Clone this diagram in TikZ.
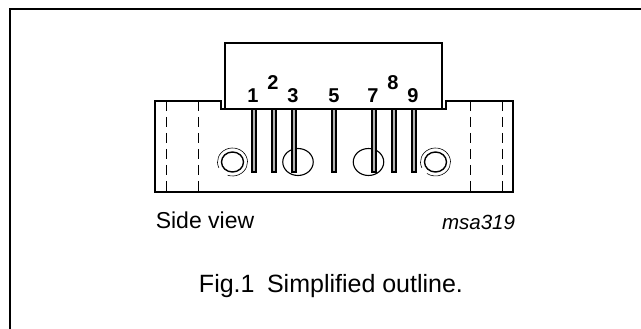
\documentclass[tikz,border=0pt]{standalone}
\usepackage{fontspec}
\setmainfont{Liberation Sans}
\usetikzlibrary{shapes.geometric}
\begin{document}
\begin{tikzpicture}[x=1pt,y=-1pt]
\tikzstyle{outline}=[draw, line width=1.2pt]
\tikzstyle{hidden}=[draw, line width=0.6pt, dash pattern=on 10pt off 6pt]
\tikzstyle{pin}=[draw, line width=1.1pt, fill=gray!60]
\tikzstyle{hole}=[draw, ellipse, line width=1.1pt, inner sep=0pt]
\tikzstyle{pinlabel}=[font=\bfseries\fontsize{20}{20}\selectfont, inner sep=0pt]

\useasboundingbox (0,0) rectangle (641,329);

% Frame
\draw[line width=2pt] (641,9) -- (10,9) -- (10,329);

% Body outline
\draw[outline] (225,109) -- (225,43) -- (442,43) -- (442,109);
\draw[outline] (225,109) -- (221,109) -- (221,101) -- (155,101) -- (155,192) -- (513,192) -- (513,101) -- (446,101) -- (446,109) -- cycle;

% Hidden lines
\foreach \x in {166,198,470,502}
  \draw[hidden] (\x,101) -- (\x,192);

% Holes
\node[hole, minimum width=30.5pt, minimum height=27pt] (holeb) at (298,162) {};
\node[hole, minimum width=30.5pt, minimum height=27pt] (holec) at (368.5,162) {};
\node[hole, minimum width=22pt, minimum height=20pt, line width=1.4pt] (holea) at (232.5,162) {};
\node[hole, minimum width=22pt, minimum height=20pt, line width=1.4pt] (holed) at (435.5,162) {};
\draw[line width=0.6pt] (holea.center) ++(155:15 and 14) arc (155:469:15 and 14);
\draw[line width=0.6pt] (holed.center) ++(155:15 and 14) arc (155:485:15 and 14);

% Pins
\foreach \x in {254,274,294,334,374,394,414}
  \draw[pin] (\x-2,109) rectangle (\x+2,172);

% Pin numbers
\node[pinlabel] (one) at (253,96) {1};
\node[pinlabel] (two) at (273,83) {2};
\node[pinlabel] (three) at (293,96) {3};
\node[pinlabel] (five) at (334,96) {5};
\node[pinlabel] (seven) at (373,96) {7};
\node[pinlabel] (eight) at (393,83) {8};
\node[pinlabel] (nine) at (413,96) {9};

% Captions
\node[font=\fontsize{23}{23}\selectfont, inner sep=0pt] (side) at (205,220) {Side view};
\node[font=\itshape\fontsize{20.5}{20.5}\selectfont, inner sep=0pt] (code) at (478.5,222) {msa319};
\node[font=\fontsize{25}{25}\selectfont, inner sep=0pt] (caption) at (331,286) {Fig.1\hspace{0.5em}Simplified outline.};
\end{tikzpicture}
\end{document}
